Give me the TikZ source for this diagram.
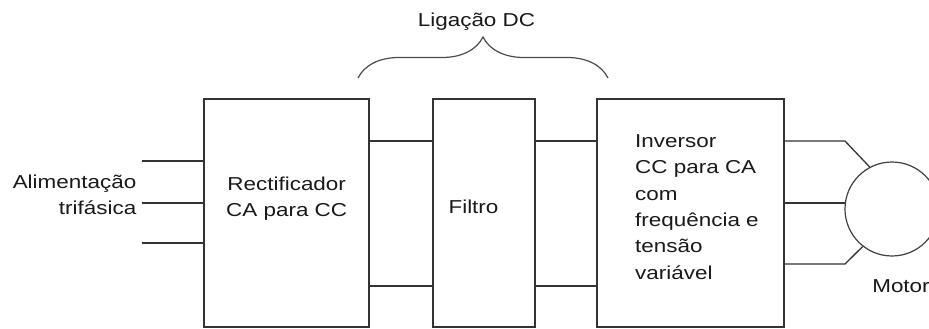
\documentclass[tikz,border=0pt]{standalone}
\usepackage{fontspec}
\setmainfont{Liberation Sans}
\usetikzlibrary{decorations.pathreplacing}

\begin{document}
\begin{tikzpicture}[x=1pt, y=1pt,
    bloque/.style={draw=black!80, line width=1.3pt, minimum height=228pt, inner sep=0pt},
    linea/.style={draw=black!80, line width=1.3pt},
    texto/.style={font=\fontsize{18.7}{26.3}\selectfont, text=black!90, xscale=1.2, inner sep=0pt}]
    \useasboundingbox (0,0) rectangle (929,-329);

    % Bloques
    \node[bloque, minimum width=165pt] (rectificador) at (286.5,-213) {};
    \node[bloque, minimum width=102pt] (filtro) at (484,-213) {};
    \node[bloque, minimum width=187pt] (inversor) at (690.5,-213) {};
    \node[circle, draw=black!75, line width=1.2pt, minimum size=94pt, inner sep=0pt] (motor) at (892,-209) {};

    % Textos
    \node[texto, align=right, anchor=east] (alimentacao) at (136.5,-194.8) {Alimentação\\trifásica};
    \node[texto, align=center] (trectificador) at (286.7,-199) {Rectificador\\CA para CC};
    \node[texto] (tfiltro) at (473.5,-207.3) {Filtro};
    \node[texto, align=left, anchor=west] (tinversor) at (635,-207) {Inversor\\CC para CA\\com\\frequência e\\tensão\\variável};
    \node[texto] (tmotor) at (901,-286.3) {Motor};
    \node[texto] (ligacao) at (476.5,-21.3) {Ligação DC};

    % Entrada trifasica
    \coordinate (e1) at (142,-161);
    \coordinate (e2) at (142,-203);
    \coordinate (e3) at (142,-243);
    \foreach \e in {e1,e2,e3}
        \draw[linea] (\e) -- (\e -| rectificador.west);

    % Barramento DC
    \draw[linea] ([yshift=72pt]rectificador.east) -- ([yshift=72pt]filtro.west);
    \draw[linea] ([yshift=-73pt]rectificador.east) -- ([yshift=-73pt]filtro.west);
    \draw[linea] ([yshift=72pt]filtro.east) -- ([yshift=72pt]inversor.west);
    \draw[linea] ([yshift=-73pt]filtro.east) -- ([yshift=-73pt]inversor.west);

    % Salida al motor
    \coordinate (s1) at (845,-141);
    \coordinate (s2) at (845,-203);
    \coordinate (s3) at (845,-264);
    \draw[linea] (inversor.east |- s1) -- (s1) -- (motor.118);
    \draw[linea] (inversor.east |- s2) -- (s2);
    \draw[linea] (inversor.east |- s3) -- (s3) -- (motor.232);

    % Llave
    \coordinate (l1) at (358,-78);
    \coordinate (l2) at (608,-78);
    \draw[decorate, decoration={brace, amplitude=41pt}, draw=black!70, line width=1.2pt] (l1) -- (l2);
\end{tikzpicture}
\end{document}
